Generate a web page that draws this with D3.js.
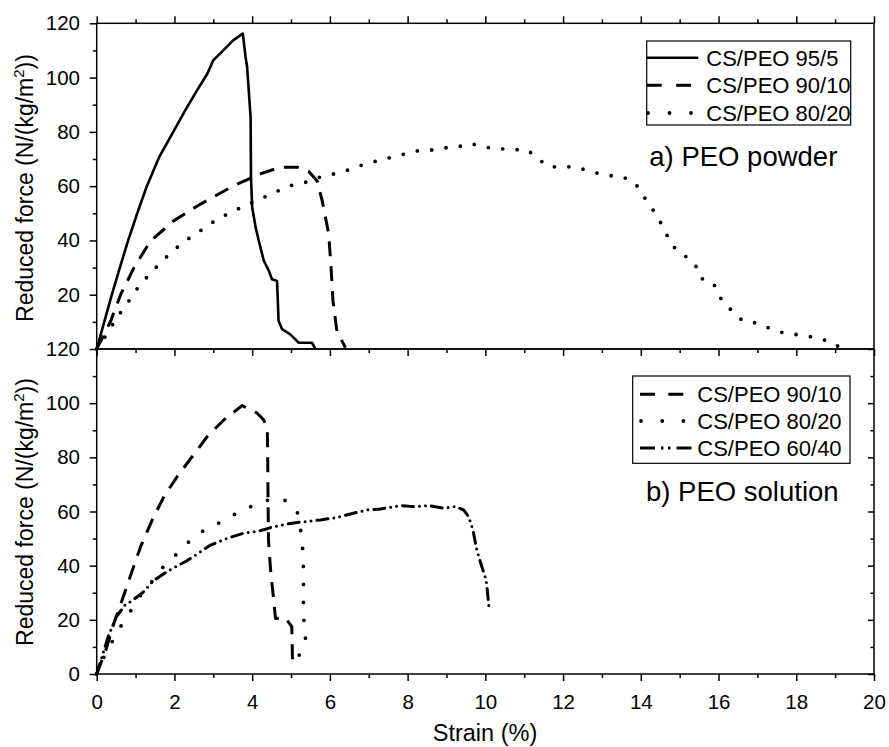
<!DOCTYPE html>
<html>
<head>
<meta charset="utf-8">
<script src="https://cdn.jsdelivr.net/npm/d3@7"></script>
<style>
  html, body { margin: 0; padding: 0; background: #fff; }
  svg { display: block; font-family: "Liberation Sans", Arial, sans-serif; }
</style>
</head>
<body>
<svg id="chart" width="889" height="747"></svg>
<script>
// ---------------- DATA ----------------
// Panel a) PEO powder : [strain %, reduced force]
const powder_95_5 = [[0,0],[0.2,10.3],[0.39,20],[0.6,30.2],[0.81,40],[1.05,50.3],[1.29,60],[1.6,70.5],[1.97,80],[2.3,88.5],[2.57,95],[2.85,101.5],[3.0,106.4],[3.2,109.2],[3.51,113.7],[3.76,116.2],[3.83,107.6],[3.87,104],[3.96,85.4],[3.97,63.3],[4.0,52.2],[4.09,44.8],[4.17,39.9],[4.30,32.5],[4.43,28.8],[4.51,25.7],[4.64,25.1],[4.68,10.3],[4.77,7.3],[4.98,5.4],[5.2,2.3],[5.54,2.3],[5.63,0]];
const powder_90_10 = [[0,0],[0.36,10.3],[0.62,20.2],[0.96,30],[1.39,39.9],[1.99,47.3],[2.67,53.4],[3.53,60.2],[4.21,64.5],[4.73,67],[5.16,67],[5.45,65.5],[5.67,62],[5.8,54.7],[5.97,42.4],[6.03,30],[6.08,17.7],[6.18,6.6],[6.4,0.5]];
const powder_80_20 = [[0,0],[0.26,5.4],[0.49,11],[0.77,16.5],[1.05,22.4],[1.36,27.6],[1.69,32.5],[2.03,37],[2.37,40.7],[2.72,44.1],[3.08,47.6],[3.44,50.3],[3.87,53.2],[4.26,55.6],[4.64,58.1],[4.98,60.2],[5.37,61.4],[5.74,63.3],[6.1,64.5],[6.48,66],[6.83,67.8],[7.19,69.2],[7.57,70.6],[7.94,71.9],[8.28,73.1],[8.54,73.1],[8.9,74.1],[9.25,74.3],[9.61,75.8],[9.95,74.3],[10.3,74.1],[10.64,73.3],[11.04,73.6],[11.32,70.9],[11.58,67.3],[11.92,67],[12.29,67.2],[12.78,65.1],[13.16,63.9],[13.51,63.6],[13.85,61.2],[14.11,55.5],[14.36,50.3],[14.58,44.8],[14.79,38.3],[15.07,35],[15.39,31.5],[15.54,26.1],[15.86,24.5],[16.08,18],[16.36,13.8],[16.63,10.3],[17.02,9.5],[17.36,7.3],[17.73,5.7],[18.1,5.2],[18.5,4.2],[18.88,2.7],[19.18,0.1]];

// Panel b) PEO solution
const solution_90_10 = [[0,0],[0.25,9.5],[0.44,18.7],[0.6,25],[0.83,34.7],[1.13,47],[1.43,56.9],[1.73,65.5],[2.07,72.9],[2.46,80.3],[2.84,87.6],[3.27,93.8],[3.74,99.1],[4.13,96.3],[4.3,93.8],[4.39,90.1],[4.4,80.3],[4.41,61.8],[4.42,49.5],[4.48,37.2],[4.55,28],[4.6,20.5],[4.85,20.8],[5.02,17.5],[5.03,11],[5.04,3]];
const solution_80_20 = [[0,0],[0.19,6.4],[0.41,12.3],[0.64,18.1],[0.9,23.9],[1.16,29.8],[1.44,34.5],[1.73,39.9],[2.03,43.9],[2.33,48.3],[2.65,52.2],[2.97,54.4],[3.29,56.9],[3.57,59.1],[3.87,61.2],[4.23,63.4],[4.57,64.9],[4.88,64.0],[5.16,59.9],[5.26,52.2],[5.31,44.6],[5.32,36.9],[5.32,29.1],[5.32,21.4],[5.38,13.6],[5.06,1.1]];
const solution_60_40 = [[0,0],[0.15,7],[0.3,14],[0.5,21],[0.73,25.5],[0.93,27.3],[1.18,30],[1.45,34.3],[1.84,38.1],[2.32,41.8],[2.93,47.6],[3.36,50.1],[3.78,52],[4.21,52.9],[4.56,54.4],[4.98,55.6],[5.33,56.2],[5.76,56.9],[6.14,57.7],[6.53,59.1],[6.96,60.6],[7.3,60.9],[7.81,62.2],[8.15,61.8],[8.54,62.2],[8.92,61.2],[9.22,61.8],[9.44,60.6],[9.57,58.1],[9.68,53.2],[9.78,45.8],[9.91,39.6],[10.02,34.7],[10.05,31],[10.1,23.6]];

const legendTop = ["CS/PEO 95/5", "CS/PEO 90/10", "CS/PEO 80/20"];
const legendBottom = ["CS/PEO 90/10", "CS/PEO 80/20", "CS/PEO 60/40"];
const panelLabels = ["a) PEO powder", "b) PEO solution"];

const strainMajor = [0,2,4,6,8,10,12,14,16,18,20];
const strainMinor = [1,3,5,7,9,11,13,15,17,19];
const forceMajor = [0,20,40,60,80,100,120];
const forceMinor = [10,30,50,70,90,110];

// ---------------- LAYOUT ----------------
const svg = d3.select("#chart");
const X0 = 96.7, X1 = 874;
const TOP = [23.3, 349], BOT = [349, 674];
const FONT = "'Liberation Sans', Arial, sans-serif";

const x = d3.scaleLinear().domain([0,20]).range([X0, X1]);
const yTop = d3.scaleLinear().domain([0,120]).range([TOP[1], TOP[0]]);
const yBot = d3.scaleLinear().domain([0,120]).range([BOT[1], BOT[0]]);

const styles = {
  solid:  {width: 2.6, dash: null, cap: "butt"},
  dash:   {width: 3, dash: "15 10", cap: "butt"},
  dotTop: {width: 3.8, dash: "0 14.5", cap: "round"},
  dotBot: {width: 3.8, dash: "0 18", cap: "round"},
  dashDotDot: {width: 3, dash: "11 6 0 6 0 6", cap: "round"}
};

function drawSeries(data, yScale, st) {
  const line = d3.line().x(d => x(d[0])).y(d => yScale(d[1]));
  const p = svg.append("path").datum(data)
    .attr("d", line)
    .attr("fill", "none")
    .attr("stroke", "#000")
    .attr("stroke-width", st.width)
    .attr("stroke-linecap", st.cap)
    .attr("stroke-linejoin", "round");
  if (st.dash) p.attr("stroke-dasharray", st.dash);
}

function axisClean(g) {
  g.select(".domain").remove();
  g.selectAll("line").attr("stroke", "#000").attr("stroke-width", 1.5);
}

function drawPanelAxes(yScale, range, isBottom) {
  const gl = svg.append("g").attr("transform", `translate(${X0},0)`)
    .call(d3.axisLeft(yScale).tickValues(isBottom ? forceMajor : forceMajor.filter(v => v > 0)).tickSize(7).tickPadding(9.7));
  axisClean(gl);
  gl.selectAll("text").attr("font-size", 20.5).attr("font-family", FONT).attr("fill", "#000");
  const glm = svg.append("g").attr("transform", `translate(${X0},0)`)
    .call(d3.axisLeft(yScale).tickValues(forceMinor).tickSize(4).tickFormat(""));
  axisClean(glm);

  if (!isBottom) {
    const gt = svg.append("g").attr("transform", `translate(0,${range[0]})`)
      .call(d3.axisTop(x).tickValues(strainMajor).tickSize(7).tickFormat(""));
    axisClean(gt);
    const gtm = svg.append("g").attr("transform", `translate(0,${range[0]})`)
      .call(d3.axisTop(x).tickValues(strainMinor).tickSize(4).tickFormat(""));
    axisClean(gtm);
    const gj = svg.append("g").attr("transform", `translate(0,${range[1]})`)
      .call(d3.axisBottom(x).tickValues(strainMajor).tickSize(7).tickFormat(""));
    axisClean(gj);
    const gjm = svg.append("g").attr("transform", `translate(0,${range[1]})`)
      .call(d3.axisBottom(x).tickValues(strainMinor).tickSize(4).tickFormat(""));
    axisClean(gjm);
  } else {
    const gb = svg.append("g").attr("transform", `translate(0,${range[1]})`)
      .call(d3.axisBottom(x).tickValues(strainMajor).tickSize(7).tickPadding(13));
    axisClean(gb);
    gb.selectAll("text").attr("font-size", 20.5).attr("font-family", FONT).attr("fill", "#000");
    const gbm = svg.append("g").attr("transform", `translate(0,${range[1]})`)
      .call(d3.axisBottom(x).tickValues(strainMinor).tickSize(4).tickFormat(""));
    axisClean(gbm);
    const gr = svg.append("g").attr("transform", `translate(${X1},0)`)
      .call(d3.axisLeft(yScale).tickValues(forceMajor).tickSize(6).tickFormat(""));
    axisClean(gr);
    const grm = svg.append("g").attr("transform", `translate(${X1},0)`)
      .call(d3.axisLeft(yScale).tickValues(forceMinor).tickSize(3.5).tickFormat(""));
    axisClean(grm);
  }
  svg.append("rect").attr("x", X0).attr("y", range[0])
    .attr("width", X1 - X0).attr("height", range[1] - range[0])
    .attr("fill", "none").attr("stroke", "#000").attr("stroke-width", 1.5);
}

function yTitle(cy) {
  const t = svg.append("text")
    .attr("transform", `translate(33.3,${cy}) rotate(-90)`)
    .attr("text-anchor", "middle")
    .attr("font-size", 23).attr("font-family", FONT).attr("fill", "#000");
  t.append("tspan").text("Reduced force (N/(kg/m");
  t.append("tspan").attr("font-size", 15).attr("dy", -9).text("2");
  t.append("tspan").attr("dy", 9).text("))");
}

function legend(box, rows, labels, styleList, textX, fontSize) {
  svg.append("rect").attr("x", box[0]).attr("y", box[1]).attr("width", box[2]).attr("height", box[3])
    .attr("fill", "#fff").attr("stroke", "#000").attr("stroke-width", 1.2);
  labels.forEach((lab, i) => {
    const st = styleList[i];
    const ln = svg.append("line")
      .attr("x1", st.x1).attr("x2", st.x2).attr("y1", rows[i]).attr("y2", rows[i])
      .attr("stroke", "#000").attr("stroke-width", st.width).attr("stroke-linecap", st.cap);
    if (st.dash) ln.attr("stroke-dasharray", st.dash);
    svg.append("text").attr("x", textX).attr("y", rows[i] + fontSize * 0.36)
      .attr("font-size", fontSize).attr("font-family", FONT).attr("fill", "#000").text(lab);
  });
}

// ---------------- DRAW ----------------
drawSeries(powder_95_5, yTop, styles.solid);
drawSeries(powder_90_10, yTop, styles.dash);
drawSeries(powder_80_20, yTop, styles.dotTop);
drawSeries(solution_90_10, yBot, styles.dash);
drawSeries(solution_80_20, yBot, styles.dotBot);
drawSeries(solution_60_40, yBot, styles.dashDotDot);

drawPanelAxes(yTop, TOP, false);
drawPanelAxes(yBot, BOT, true);

yTitle(188);
yTitle(512);

svg.append("text").attr("x", 485).attr("y", 741).attr("text-anchor", "middle")
  .attr("font-size", 23.5).attr("font-family", FONT).attr("fill", "#000").text("Strain (%)");

legend([646.7, 41, 204, 84], [57.7, 85.2, 113], legendTop, [
  {x1: 646.7, x2: 698.3, width: 2.6, dash: null, cap: "butt"},
  {x1: 646.7, x2: 691, width: 3, dash: "15 14.5", cap: "butt"},
  {x1: 648, x2: 692, width: 3.8, dash: "0 21.5", cap: "round"}
], 706.3, 22);

legend([632.7, 376, 217.3, 87.3], [394.3, 421, 448], legendBottom, [
  {x1: 640, x2: 684, width: 3, dash: "15 13.3", cap: "butt"},
  {x1: 641, x2: 684, width: 3.8, dash: "0 21.2", cap: "round"},
  {x1: 640, x2: 692, width: 3, dash: "15 6 2.5 4.5 2.5 6", cap: "butt"}
], 697.3, 22);

svg.append("text").attr("x", 649.3).attr("y", 165.7)
  .attr("font-size", 27.5).attr("font-family", FONT).attr("fill", "#000").text(panelLabels[0]);
svg.append("text").attr("x", 646).attr("y", 500.7)
  .attr("font-size", 27.5).attr("font-family", FONT).attr("fill", "#000").text(panelLabels[1]);
</script>
</body>
</html>
